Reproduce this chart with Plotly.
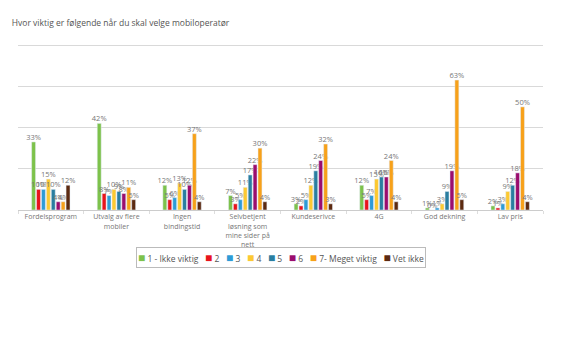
import plotly.graph_objects as go

categories = ["Fordelsprogram", "Utvalg av flere<br>mobiler", "Ingen<br>bindingstid",
              "Selvbetjent<br>løsning som<br>mine sider på<br>nett", "Kundeserivce", "4G",
              "God dekning", "Lav pris"]
series_names = ["1 - Ikke viktig", "2", "3", "4", "5", "6", "7- Meget viktig", "Vet ikke"]
s1 = [33, 42, 12, 7, 3, 12, 1, 2]
s2 = [10, 8, 5, 3, 2, 5, 0, 1]
s3 = [10, 7, 6, 5, 5, 7, 1, 3]
s4 = [15, 10, 13, 11, 12, 15, 3, 9]
s5 = [10, 9, 10, 17, 19, 16, 9, 12]
s6 = [4, 8, 12, 22, 24, 16, 19, 18]
s7 = [4, 11, 37, 30, 32, 24, 63, 50]
s8 = [12, 5, 4, 4, 3, 4, 5, 4]
values = [s1, s2, s3, s4, s5, s6, s7, s8]
colors = ["#7dc24b", "#e8141c", "#2e9bd6", "#fcc932", "#2a7ea0", "#9b0d6e", "#f7a11a", "#5c2a10"]

fig = go.Figure()
for name, vals, col in zip(series_names, values, colors):
    fig.add_trace(go.Bar(
        x=categories, y=vals, name=name, marker_color=col,
        text=[f"{v}%" for v in vals], textposition="outside",
        textfont=dict(size=7.5, color="#777", family="Open Sans"),
        constraintext="none", cliponaxis=False, showlegend=False,
    ))

legend_text = "&nbsp;&nbsp;&nbsp;".join(
    f"<span style='color:{c};font-size:12px'>■</span> {n}" for n, c in zip(series_names, colors)
)
fig.add_annotation(
    text=legend_text, xref="paper", yref="paper", x=0.5, y=-0.289,
    xanchor="center", yanchor="middle", showarrow=False,
    font=dict(size=8.5, color="#555", family="Open Sans"),
    bordercolor="#bbb", borderwidth=1, borderpad=1, bgcolor="white",
)

fig.update_layout(
    width=563, height=353,
    margin=dict(l=18, r=20, t=44, b=143),
    paper_bgcolor="white", plot_bgcolor="white",
    barmode="group", bargap=0.4, bargroupgap=0.2,
    font=dict(family="Open Sans", color="#666"),
    title=dict(text="Hvor viktig er følgende når du skal velge mobiloperatør",
               x=0.021, xanchor="left", y=0.935, yanchor="middle",
               font=dict(size=8.5, color="#555", family="Open Sans")),
    showlegend=False,
    xaxis=dict(tickfont=dict(size=7, color="#777"), ticks="outside", tickson="boundaries",
               ticklen=3, tickcolor="#ddd", showline=True, linecolor="#ccc", linewidth=1),
    yaxis=dict(range=[0, 80.5], tickvals=[20, 40, 60, 80], showticklabels=False, showgrid=True,
               gridcolor="#d9d9d9", zeroline=False),
)

fig.write_html("out.html")
